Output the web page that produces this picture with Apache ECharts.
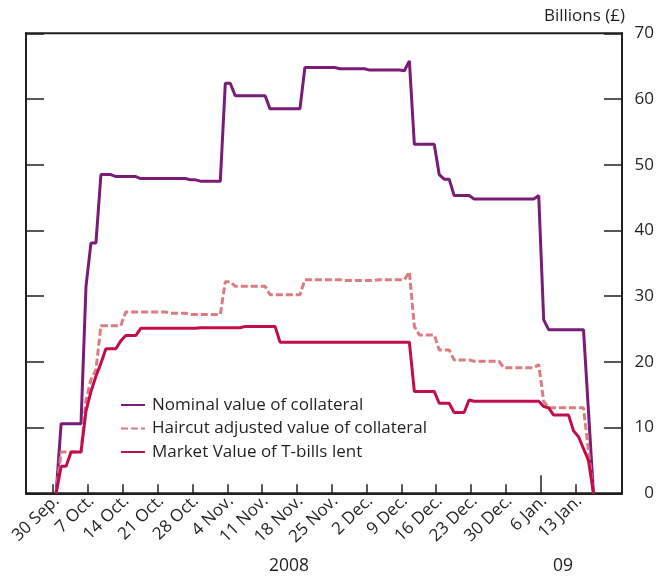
<!DOCTYPE html>
<html>
<head>
<meta charset="utf-8">
<script src="https://cdn.jsdelivr.net/npm/echarts@6/dist/echarts.min.js"></script>
<style>
html,body{margin:0;padding:0;background:#fff;}
#c{width:657px;height:578px;}
</style>
</head>
<body>
<div id="c"></div>
<script>
// Daily values from 30 Sep. 2008 (index 0) to 16 Jan. 2009 (index 108), £ billions
const tickLabels = ['30 Sep.','7 Oct.','14 Oct.','21 Oct.','28 Oct.','4 Nov.','11 Nov.','18 Nov.','25 Nov.','2 Dec.','9 Dec.','16 Dec.','23 Dec.','30 Dec.','6 Jan.','13 Jan.'];
const yearLabels = ['2008', '09'];
const seriesNames = ['Nominal value of collateral', 'Haircut adjusted value of collateral', 'Market Value of T-bills lent'];

const nominal = [
  0, 10.6, 10.6, 10.6, 10.6, 10.6, 31.5, 38.1, 38.1, 48.5,
  48.5, 48.5, 48.2, 48.2, 48.2, 48.2, 48.2, 47.9, 47.9, 47.9,
  47.9, 47.9, 47.9, 47.9, 47.9, 47.9, 47.9, 47.7, 47.7, 47.5,
  47.5, 47.5, 47.5, 47.5, 62.4, 62.4, 60.5, 60.5, 60.5, 60.5,
  60.5, 60.5, 60.5, 58.5, 58.5, 58.5, 58.5, 58.5, 58.5, 58.5,
  64.8, 64.8, 64.8, 64.8, 64.8, 64.8, 64.8, 64.6, 64.6, 64.6,
  64.6, 64.6, 64.6, 64.4, 64.4, 64.4, 64.4, 64.4, 64.4, 64.4,
  64.3, 65.8, 53.1, 53.1, 53.1, 53.1, 53.1, 48.5, 47.8, 47.8,
  45.3, 45.3, 45.3, 45.3, 44.8, 44.8, 44.8, 44.8, 44.8, 44.8,
  44.8, 44.8, 44.8, 44.8, 44.8, 44.8, 44.8, 45.3, 26.4, 24.9,
  24.9, 24.9, 24.9, 24.9, 24.9, 24.9, 24.9, 12.5, 0
];
const haircut = [
  0, 6.3, 6.3, 6.3, 6.3, 6.3, 14.2, 17.3, 18.8, 25.5,
  25.5, 25.5, 25.5, 25.5, 27.6, 27.6, 27.6, 27.6, 27.6, 27.6,
  27.6, 27.6, 27.6, 27.4, 27.4, 27.4, 27.4, 27.2, 27.2, 27.2,
  27.2, 27.2, 27.2, 27.2, 32.2, 32.2, 31.5, 31.5, 31.5, 31.5,
  31.5, 31.5, 31.5, 30.2, 30.2, 30.2, 30.2, 30.2, 30.2, 30.2,
  32.5, 32.5, 32.5, 32.5, 32.5, 32.5, 32.5, 32.5, 32.4, 32.4,
  32.4, 32.4, 32.4, 32.4, 32.4, 32.5, 32.5, 32.5, 32.5, 32.5,
  32.5, 33.7, 25.4, 24.1, 24.1, 24.1, 24.1, 21.8, 21.8, 21.8,
  20.3, 20.3, 20.3, 20.3, 20.1, 20.1, 20.1, 20.1, 20.1, 20.1,
  19.1, 19.1, 19.1, 19.1, 19.1, 19.1, 19.1, 19.6, 14.0, 13.0,
  13.0, 13.0, 13.0, 13.0, 13.0, 13.0, 13.0, 6.5, 0
];
const market = [
  0, 4.1, 4.1, 6.3, 6.3, 6.3, 12.5, 15.5, 17.8, 19.8,
  22.0, 22.0, 22.0, 23.2, 24.0, 24.0, 24.0, 25.1, 25.1, 25.1,
  25.1, 25.1, 25.1, 25.1, 25.1, 25.1, 25.1, 25.1, 25.1, 25.2,
  25.2, 25.2, 25.2, 25.2, 25.2, 25.2, 25.2, 25.2, 25.4, 25.4,
  25.4, 25.4, 25.4, 25.4, 25.4, 23.0, 23.0, 23.0, 23.0, 23.0,
  23.0, 23.0, 23.0, 23.0, 23.0, 23.0, 23.0, 23.0, 23.0, 23.0,
  23.0, 23.0, 23.0, 23.0, 23.0, 23.0, 23.0, 23.0, 23.0, 23.0,
  23.0, 23.0, 15.5, 15.5, 15.5, 15.5, 15.5, 13.7, 13.7, 13.7,
  12.3, 12.3, 12.3, 14.2, 14.0, 14.0, 14.0, 14.0, 14.0, 14.0,
  14.0, 14.0, 14.0, 14.0, 14.0, 14.0, 14.0, 14.0, 13.2, 13.0,
  11.9, 11.9, 11.9, 11.9, 9.5, 8.6, 6.8, 5.0, 0
];

const FONT = 'Open Sans';
const AX = '#231f20';
const tickPos = tickLabels.map((_, i) => i * 7 - 0.6);   // week boundaries
const labelPos = tickLabels.map((_, i) => i * 7 + 0.1);  // label anchors sit just right of each tick
const yearTick = [tickPos[14]];                            // 6 Jan. (start of 2009)

const toPairs = arr => arr.map((v, i) => [i, v]);

const chart = echarts.init(document.getElementById('c'), null, {renderer: 'canvas'});
chart.setOption({
  animation: false,
  backgroundColor: '#fff',
  textStyle: {fontFamily: FONT},
  grid: {left: 26, right: 32, top: 33.3, bottom: 84.7, show: true, borderColor: AX, borderWidth: 2, backgroundColor: 'transparent'},
  xAxis: [{
    type: 'value', min: -6.06, max: 113.74,
    axisLine: {show: true, onZero: false, lineStyle: {color: AX, width: 2}},
    splitLine: {show: false},
    axisTick: {show: true, inside: true, length: 9, lineStyle: {color: AX, width: 1.5}, customValues: tickPos},
    axisLabel: {
      show: true, rotate: 44, margin: 5, fontSize: 17, color: '#231f20', fontFamily: FONT,
      customValues: labelPos,
      formatter: v => tickLabels[Math.round((v - 0.1) / 7)] || ''
    }
  }, {
    type: 'value', min: -6.06, max: 113.74, position: 'bottom',
    axisLine: {show: false, onZero: false}, splitLine: {show: false},
    axisTick: {show: true, inside: true, length: 18, lineStyle: {color: AX, width: 1.5}, customValues: yearTick},
    axisLabel: {show: false}
  }],
  yAxis: [{
    type: 'value', position: 'right', min: 0, max: 70, interval: 10,
    axisLine: {show: true, onZero: false, lineStyle: {color: AX, width: 2}},
    splitLine: {show: false},
    axisTick: {show: true, inside: true, length: 18, lineStyle: {color: AX, width: 1.5}},
    axisLabel: {show: true, align: 'right', margin: 32, fontSize: 17, color: '#231f20', fontFamily: FONT}
  }, {
    type: 'value', position: 'left', min: 0, max: 70, interval: 10,
    axisLine: {show: true, onZero: false, lineStyle: {color: AX, width: 2}},
    splitLine: {show: false},
    axisTick: {show: true, inside: true, length: 18, lineStyle: {color: AX, width: 1.5}},
    axisLabel: {show: false}
  }],
  legend: {
    orient: 'vertical', left: 120, top: 396, padding: 0, itemWidth: 24, itemHeight: 14, itemGap: 5.5,
    data: seriesNames,
    itemStyle: {opacity: 0, borderWidth: 0},
    textStyle: {fontSize: 17, color: '#231f20', fontFamily: FONT, lineHeight: 18, padding: [0, 0, 0, 2]}
  },
  series: [{
    name: seriesNames[0], type: 'line', data: toPairs(nominal), symbol: 'none',
    lineStyle: {color: '#7a1b78', width: 3}, itemStyle: {color: '#7a1b78'}
  }, {
    name: seriesNames[1], type: 'line', data: toPairs(haircut), symbol: 'none',
    lineStyle: {color: '#dc7b80', width: 3, type: [7, 3]}, itemStyle: {color: '#dc7b80'}
  }, {
    name: seriesNames[2], type: 'line', data: toPairs(market), symbol: 'none',
    lineStyle: {color: '#c30d4b', width: 3}, itemStyle: {color: '#c30d4b'}
  }],
  graphic: [
    {type: 'text', right: 32, top: 8, style: {text: 'Billions (£)', fontSize: 17, fill: '#231f20', fontFamily: FONT}},
    {type: 'text', x: 289, y: 566, style: {text: yearLabels[0], fontSize: 17.5, fill: '#231f20', fontFamily: FONT, align: 'center', verticalAlign: 'middle'}},
    {type: 'text', x: 563, y: 566, style: {text: yearLabels[1], fontSize: 17.5, fill: '#231f20', fontFamily: FONT, align: 'center', verticalAlign: 'middle'}}
  ]
});
</script>
</body>
</html>
